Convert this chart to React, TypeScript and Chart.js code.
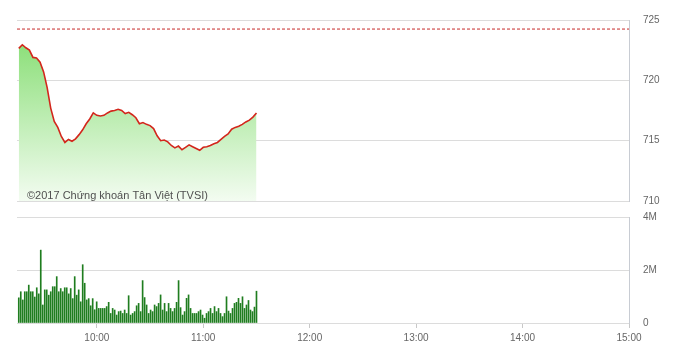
import React, { useEffect, useRef } from 'react';
import { Chart, registerables } from 'chart.js';

Chart.register(...registerables);

// time axis in minutes since midnight
const AXIS_START = 555; // 9:15
const AXIS_END = 900; // 15:00
const HOUR_TICKS = [600, 660, 720, 780, 840, 900];
const PRICE_TICKS = [710, 715, 720, 725];
const VOLUME_TICKS = [0, 2000000, 4000000];
const REF_PRICE = 724.25;
const WATERMARK = '©2017 Chứng khoán Tân Việt (TVSI)';

// price every 2 minutes from 9:16
const PRICE_START = 556;
const PRICE_STEP = 2;
const PRICES = [
  722.65, 722.95, 722.7, 722.5, 721.9, 721.85, 721.5, 720.7, 719.4, 717.7,
  716.6, 716.1, 715.35, 714.85, 715.1, 714.95, 715.15, 715.5, 715.9, 716.4,
  716.8, 717.3, 717.1, 717.05, 717.1, 717.3, 717.45, 717.5, 717.6, 717.5,
  717.25, 717.35, 717.15, 716.9, 716.4, 716.5, 716.35, 716.25, 716.0, 715.4,
  715.0, 715.05, 714.9, 714.6, 714.4, 714.55, 714.25, 714.45, 714.65, 714.5,
  714.35, 714.2, 714.45, 714.5, 714.6, 714.75, 714.85, 715.1, 715.35, 715.55,
  715.95, 716.1, 716.2, 716.35, 716.55, 716.7, 716.95, 717.3,
];

// volume (millions), evenly spread from 9:16 to 11:30
const VOLUME_FIRST = 556;
const VOLUME_LAST = 690;
const VOLUMES_M = [
  0.95, 1.18, 0.87, 1.18, 1.18, 1.43, 1.18, 1.18, 0.98, 1.33, 1.1, 2.75, 0.68, 1.25, 1.25, 1.05,
  1.18, 1.37, 1.37, 1.75, 1.18, 1.3, 1.18, 1.33, 1.33, 1.1, 1.3, 0.92, 1.75, 1.05, 1.25, 0.8,
  2.2, 1.5, 0.87, 0.92, 0.65, 0.92, 0.5, 0.8, 0.55, 0.55,
  0.55, 0.55, 0.62, 0.78, 0.36, 0.55, 0.49, 0.3, 0.43, 0.45, 0.36, 0.49, 0.36, 1.03, 0.3,
  0.36, 0.43, 0.65, 0.74, 0.43, 1.6, 0.96, 0.68, 0.36, 0.49, 0.43, 0.68, 0.62, 0.74, 1.06,
  0.49, 0.74, 0.43, 0.74, 0.55, 0.43, 0.55, 0.78,
  1.6, 0.58, 0.3, 0.43, 0.93, 1.06, 0.55, 0.36, 0.36, 0.36, 0.43, 0.49, 0.3, 0.18, 0.36, 0.43,
  0.55, 0.36, 0.62, 0.43, 0.55, 0.36, 0.24, 0.36, 0.99, 0.45, 0.36, 0.55, 0.74, 0.78, 0.93,
  0.74, 0.99, 0.55, 0.68, 0.85, 0.49, 0.43, 0.6, 1.2,
];

const FONT_FAMILY = "'Liberation Sans', Arial, sans-serif";
const TICK_COLOR = '#666666';
const GRID_COLOR = '#dcdcdc';
const BORDER_COLOR = '#c8ccd3';

const hourLabel = (v: number) => `${Math.floor(v / 60)}:00`;

export default function App() {
  const topRef = useRef<HTMLCanvasElement | null>(null);
  const botRef = useRef<HTMLCanvasElement | null>(null);

  useEffect(() => {
    const priceData = PRICES.map((p, i) => ({ x: PRICE_START + i * PRICE_STEP, y: p }));
    const n = VOLUMES_M.length;
    const volData = VOLUMES_M.map((v, i) => ({
      x: VOLUME_FIRST + (i * (VOLUME_LAST - VOLUME_FIRST)) / (n - 1),
      y: v * 1000000,
    }));

    const watermark = {
      id: 'watermark',
      afterDatasetsDraw(chart: any) {
        const ctx = chart.ctx;
        ctx.save();
        ctx.font = `11px ${FONT_FAMILY}`;
        ctx.fillStyle = '#505050';
        ctx.textBaseline = 'alphabetic';
        ctx.textAlign = 'left';
        ctx.fillText(WATERMARK, 27, 199);
        ctx.restore();
      },
    };

    const top = new Chart(topRef.current as HTMLCanvasElement, {
      type: 'line',
      data: {
        datasets: [
          {
            data: priceData,
            borderColor: '#d3261c',
            borderWidth: 1.6,
            pointRadius: 0,
            tension: 0,
            fill: 'start',
            backgroundColor: (c: any) => {
              const chart = c.chart;
              const a = chart.chartArea;
              if (!a) return 'rgba(0,0,0,0)';
              const g = chart.ctx.createLinearGradient(0, a.top, 0, a.bottom);
              g.addColorStop(0, '#7ddb68');
              g.addColorStop(1, '#f3fcf1');
              return g;
            },
          },
          {
            data: [
              { x: AXIS_START, y: REF_PRICE },
              { x: AXIS_END, y: REF_PRICE },
            ],
            borderColor: '#c62828',
            borderWidth: 1,
            borderDash: [3, 2],
            pointRadius: 0,
            fill: false,
          },
        ],
      },
      options: {
        responsive: false,
        animation: false,
        events: [],
        layout: { padding: { top: 20, bottom: 157, left: 17, right: 0 } },
        plugins: { legend: { display: false }, tooltip: { enabled: false } },
        scales: {
          x: { type: 'linear', min: AXIS_START, max: AXIS_END, display: false },
          y: {
            type: 'linear',
            position: 'right',
            min: 710,
            max: 725,
            afterBuildTicks: (s: any) => {
              s.ticks = PRICE_TICKS.map((v) => ({ value: v }));
            },
            afterFit: (s: any) => {
              s.width = 55;
            },
            grid: { color: GRID_COLOR, drawTicks: false },
            border: { display: true, color: BORDER_COLOR },
            ticks: {
              padding: 14,
              color: TICK_COLOR,
              font: { family: FONT_FAMILY, size: 10 },
              callback: (v: any) => String(v),
            },
          },
        },
      },
      plugins: [watermark],
    } as any);

    const bot = new Chart(botRef.current as HTMLCanvasElement, {
      type: 'bar',
      data: {
        datasets: [
          {
            data: volData,
            backgroundColor: '#1f7d1f',
            barThickness: 1,
          },
        ],
      },
      options: {
        responsive: false,
        animation: false,
        events: [],
        layout: { padding: { top: 217, bottom: 0, left: 17, right: 0 } },
        plugins: { legend: { display: false }, tooltip: { enabled: false } },
        scales: {
          x: {
            type: 'linear',
            min: AXIS_START,
            max: AXIS_END,
            offset: false,
            afterBuildTicks: (s: any) => {
              s.ticks = HOUR_TICKS.map((v) => ({ value: v }));
            },
            afterFit: (s: any) => {
              s.height = 35;
            },
            grid: { offset: false, drawOnChartArea: false, drawTicks: true, tickLength: 5, color: '#c8c8c8' },
            border: { display: false },
            ticks: {
              padding: 4,
              maxRotation: 0,
              autoSkip: false,
              color: TICK_COLOR,
              font: { family: FONT_FAMILY, size: 10 },
              callback: (v: any) => hourLabel(Number(v)),
            },
          },
          y: {
            type: 'linear',
            position: 'right',
            min: 0,
            max: 4000000,
            afterBuildTicks: (s: any) => {
              s.ticks = VOLUME_TICKS.map((v) => ({ value: v }));
            },
            afterFit: (s: any) => {
              s.width = 55;
            },
            grid: { color: GRID_COLOR, drawTicks: false },
            border: { display: true, color: BORDER_COLOR },
            ticks: {
              padding: 14,
              color: TICK_COLOR,
              font: { family: FONT_FAMILY, size: 10 },
              callback: (v: any) => (Number(v) === 0 ? '0' : `${Number(v) / 1000000}M`),
            },
          },
        },
      },
    } as any);

    return () => {
      top.destroy();
      bot.destroy();
    };
  }, []);

  return (
    <div style={{ position: 'fixed', left: 0, top: 0, width: 684, height: 358, background: '#ffffff' }}>
      <canvas ref={topRef} width={684} height={358} style={{ position: 'absolute', left: 0, top: 0, width: 684, height: 358 }} />
      <canvas ref={botRef} width={684} height={358} style={{ position: 'absolute', left: 0, top: 0, width: 684, height: 358 }} />
    </div>
  );
}
